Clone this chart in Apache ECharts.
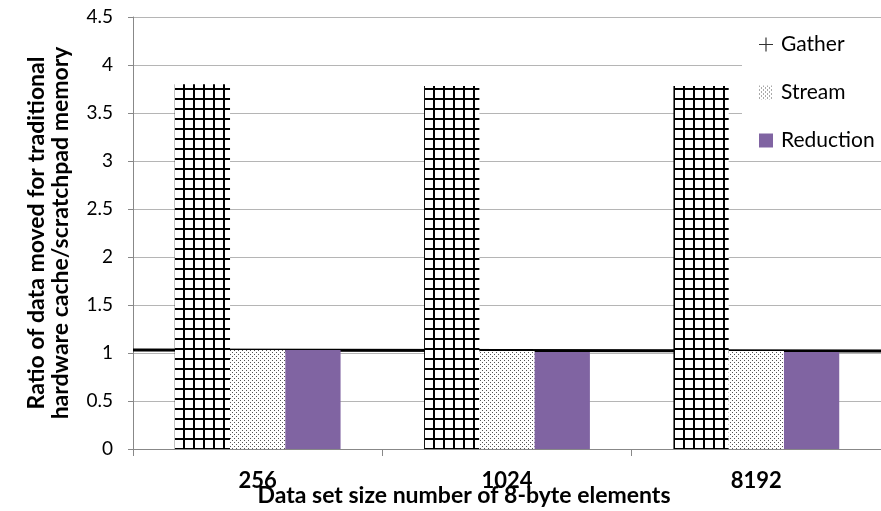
<!DOCTYPE html>
<html>
<head>
<meta charset="utf-8">
<script src="https://cdn.jsdelivr.net/npm/echarts@6/dist/echarts.min.js"></script>
<style>html,body{margin:0;padding:0;background:#fff;}#c{width:881px;height:511px;}</style>
</head>
<body>
<div id="c"></div>
<script>
var categories = ['256', '1024', '8192'];
var gather = [3.80, 3.78, 3.78];
var stream = [1.03, 1.02, 1.02];
var reduction = [1.03, 1.01, 1.01];
var baseline = [[0, 1.03], [3, 1.02]];
var yTicks = [0, 0.5, 1, 1.5, 2, 2.5, 3, 3.5, 4, 4.5];

function makeGrid() {
  var c = document.createElement('canvas');
  c.width = 10; c.height = 10;
  var g = c.getContext('2d');
  g.fillStyle = '#fff'; g.fillRect(0, 0, 10, 10);
  g.fillStyle = '#000';
  g.fillRect(0, 8, 10, 2);
  g.fillRect(3, 0, 2, 10);
  return c;
}
function makeDots() {
  var c = document.createElement('canvas');
  c.width = 4; c.height = 4;
  var g = c.getContext('2d');
  g.fillStyle = '#fff'; g.fillRect(0, 0, 4, 4);
  g.fillStyle = '#555';
  g.fillRect(0, 0, 1, 1);
  g.fillRect(2, 2, 1, 1);
  return c;
}
var FONT = 'Lato, "Open Sans", sans-serif';
var chart = echarts.init(document.getElementById('c'), null, {renderer: 'canvas'});
chart.setOption({
  animation: false,
  backgroundColor: '#fff',
  grid: {left: 133, right: -5, top: 17, bottom: 62, containLabel: false},
  legend: {
    orient: 'vertical', left: 742, top: 22,
    backgroundColor: '#fff', padding: [12, 8, 5, 17],
    itemGap: 27, itemWidth: 14, itemHeight: 14,
    textStyle: {fontFamily: FONT, fontSize: 21, color: '#000', padding: [0, 0, 0, 3]},
    data: [
      {name: 'Gather', icon: 'path://M6.4,0h1.2v6.4h6.4v1.2h-6.4v6.4h-1.2v-6.4h-6.4v-1.2h6.4z', itemStyle: {color: '#333'}},
      {name: 'Stream', icon: 'rect'},
      {name: 'Reduction', icon: 'rect'}
    ]
  },
  xAxis: [{
    type: 'category', data: categories,
    axisLine: {lineStyle: {color: '#888', width: 1}},
    axisTick: {show: true, length: 7, lineStyle: {color: '#888'}},
    axisLabel: {fontFamily: FONT, fontWeight: 'bold', fontSize: 22, color: '#000', margin: 21}
  }, {
    type: 'value', min: 0, max: 3, show: false
  }],
  yAxis: {
    type: 'value', min: 0, max: 4.5, interval: 0.5,
    name: 'Ratio of data moved for traditional\nhardware cache/scratchpad memory',
    nameLocation: 'middle', nameRotate: 90, nameGap: 60,
    nameTextStyle: {fontFamily: FONT, fontWeight: 'bold', fontSize: 23, color: '#000', lineHeight: 24},
    axisLine: {show: true, lineStyle: {color: '#888'}},
    axisTick: {show: true, length: 5, lineStyle: {color: '#888'}},
    axisLabel: {fontFamily: FONT, fontSize: 19, color: '#000', margin: 20,
      formatter: function (v) { return yTicks.indexOf(v) >= 0 ? String(v) : ''; }},
    splitLine: {lineStyle: {color: '#b5b5b5', width: 1}}
  },
  graphic: [{
    type: 'text', x: 464, y: 484,
    style: {text: 'Data set size number of 8-byte elements', font: 'bold 23px ' + FONT, fill: '#000', textAlign: 'center', textVerticalAlign: 'top'}
  }],
  series: [
    {name: 'Baseline', type: 'line', xAxisIndex: 1, data: baseline, symbol: 'none',
      lineStyle: {color: '#000', width: 3}, z: 1, silent: true},
    {name: 'Gather', type: 'bar', data: gather, barGap: '0%', barCategoryGap: '33.5%',
      itemStyle: {color: {image: makeGrid(), repeat: 'repeat'}}, z: 3},
    {name: 'Stream', type: 'bar', data: stream,
      itemStyle: {color: {image: makeDots(), repeat: 'repeat'}}, z: 3},
    {name: 'Reduction', type: 'bar', data: reduction,
      itemStyle: {color: '#8064A2'}, z: 3}
  ]
});
</script>
</body>
</html>
